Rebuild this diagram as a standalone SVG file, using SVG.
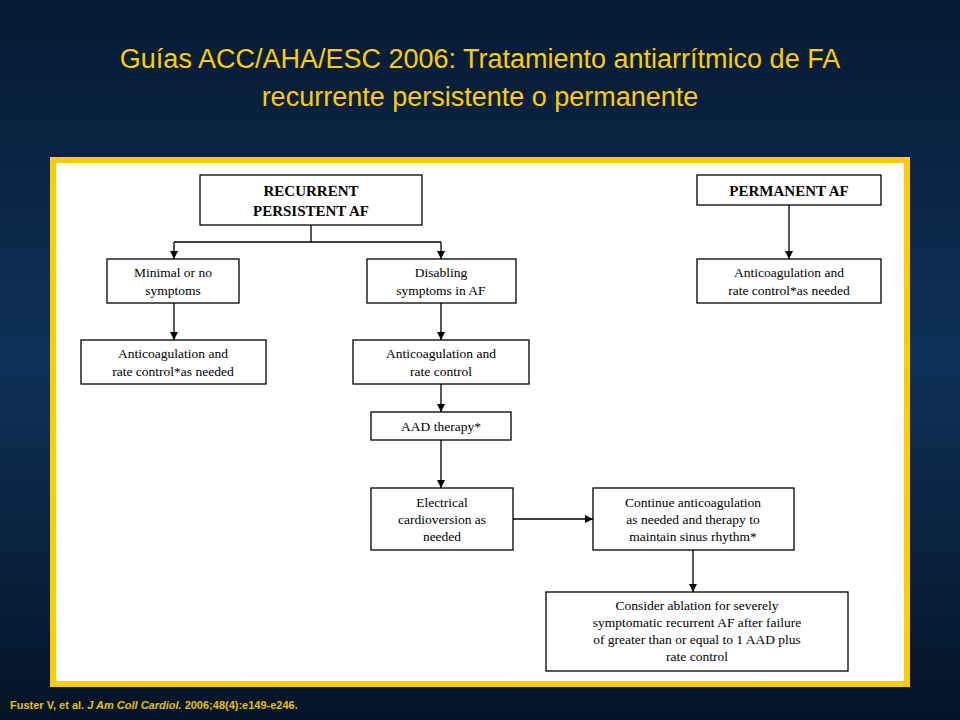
<svg xmlns="http://www.w3.org/2000/svg" width="960" height="720" viewBox="0 0 960 720">
<defs>
<linearGradient id="bg" x1="0" y1="0" x2="0" y2="1"><stop offset="0" stop-color="#051a33"/><stop offset="0.5" stop-color="#0f3158"/><stop offset="1" stop-color="#041426"/></linearGradient>
<marker id="ah" markerWidth="8" markerHeight="8" refX="8" refY="4" orient="auto" markerUnits="userSpaceOnUse"><path d="M0,0 L8,4 L0,8 z" fill="#000"/></marker>
<style>
.b{fill:#fff;stroke:#000;stroke-width:1.3}
.t{font-family:"Liberation Serif",serif;font-size:13.5px;text-anchor:middle;fill:#000}
.tb{font-family:"Liberation Serif",serif;font-size:15px;font-weight:bold;text-anchor:middle;fill:#000}
.c{fill:none;stroke:#000;stroke-width:1.3}
.ttl{font-family:"Liberation Sans",Arial,sans-serif;font-size:27px;fill:#ffcc00;text-anchor:middle}
</style>
</defs>
<rect width="960" height="720" fill="url(#bg)"/>
<text class="ttl" x="480" y="68">Guías ACC/AHA/ESC 2006: Tratamiento antiarrítmico de FA</text>
<text class="ttl" x="480" y="106">recurrente persistente o permanente</text>
<rect x="53" y="160" width="854" height="524" fill="#fff" stroke="#ffcc00" stroke-width="6"/>
<g id="connectors">
<path class="c" d="M311,225 V242 M174,242 H441"/>
<path class="c" d="M174,242 V259" marker-end="url(#ah)"/>
<path class="c" d="M441,242 V259" marker-end="url(#ah)"/>
<path class="c" d="M174,303 V340" marker-end="url(#ah)"/>
<path class="c" d="M441,303 V340" marker-end="url(#ah)"/>
<path class="c" d="M441,384 V412" marker-end="url(#ah)"/>
<path class="c" d="M441,440 V488" marker-end="url(#ah)"/>
<path class="c" d="M513,519 H593" marker-end="url(#ah)"/>
<path class="c" d="M693,550 V592" marker-end="url(#ah)"/>
<path class="c" d="M789,205 V259" marker-end="url(#ah)"/>
</g>
<g id="recurrent"><rect class="b" x="200" y="175" width="222" height="50"/><text class="tb" x="311" y="196">RECURRENT</text><text class="tb" x="311" y="216">PERSISTENT AF</text></g>
<g id="minimal"><rect class="b" x="107" y="259" width="132" height="44"/><text class="t" x="173" y="277">Minimal or no</text><text class="t" x="173" y="295">symptoms</text></g>
<g id="disabling"><rect class="b" x="367" y="259" width="149" height="44"/><text class="t" x="441" y="277">Disabling</text><text class="t" x="441" y="295">symptoms in AF</text></g>
<g id="anticoagL"><rect class="b" x="81" y="340" width="185" height="44"/><text class="t" x="173" y="358">Anticoagulation and</text><text class="t" x="173" y="376">rate control*as needed</text></g>
<g id="anticoagM"><rect class="b" x="353" y="340" width="176" height="44"/><text class="t" x="441" y="358">Anticoagulation and</text><text class="t" x="441" y="376">rate control</text></g>
<g id="aad"><rect class="b" x="371" y="412" width="140" height="28"/><text class="t" x="441" y="431">AAD therapy*</text></g>
<g id="electrical"><rect class="b" x="371" y="488" width="142" height="62"/><text class="t" x="442" y="507">Electrical</text><text class="t" x="442" y="524">cardioversion as</text><text class="t" x="442" y="541">needed</text></g>
<g id="continue"><rect class="b" x="593" y="488" width="201" height="62"/><text class="t" x="693" y="507">Continue anticoagulation</text><text class="t" x="693" y="524">as needed and therapy to</text><text class="t" x="693" y="541">maintain sinus rhythm*</text></g>
<g id="ablation"><rect class="b" x="546" y="592" width="302" height="79"/><text class="t" x="697" y="610">Consider ablation for severely</text><text class="t" x="697" y="627">symptomatic recurrent AF after failure</text><text class="t" x="697" y="644">of  greater than or equal to 1 AAD plus</text><text class="t" x="697" y="661">rate control</text></g>
<g id="permanent"><rect class="b" x="697" y="175" width="184" height="30"/><text class="tb" x="789" y="196">PERMANENT AF</text></g>
<g id="anticoagR"><rect class="b" x="697" y="259" width="184" height="44"/><text class="t" x="789" y="277">Anticoagulation and</text><text class="t" x="789" y="295">rate control*as needed</text></g>
<text x="10" y="709" font-family="Liberation Sans,Arial,sans-serif" font-size="11" font-weight="bold" fill="#e8c000">Fuster V, et al. <tspan font-style="italic">J Am Coll Cardiol.</tspan> 2006;48(4):e149-e246.</text>
</svg>
